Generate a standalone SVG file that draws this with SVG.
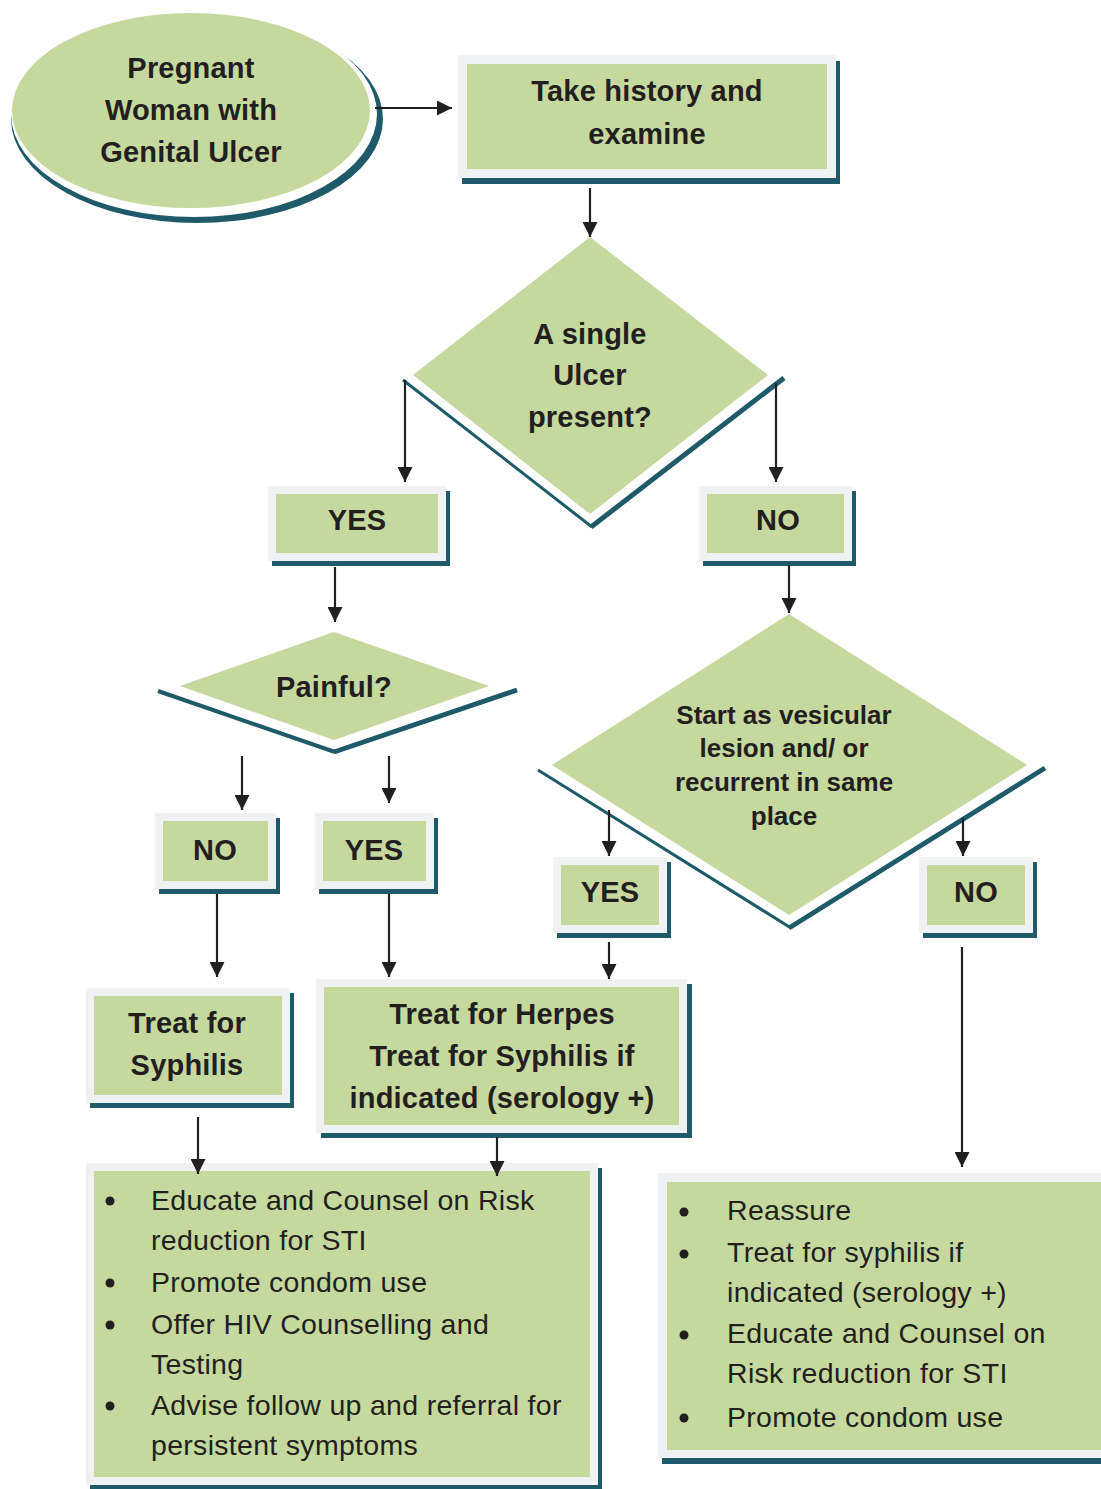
<svg xmlns="http://www.w3.org/2000/svg" width="1101" height="1489" viewBox="0 0 1101 1489">
  <style>
    .shadow { fill: #1e5a69; }
    .frame { fill: #eff1f3; }
    .fill { fill: #c5d89d; }
    .edge { stroke: #1e5a69; fill: none; stroke-linecap: butt; }
    .label { font-family: "Liberation Sans", Arial, sans-serif; font-weight: bold; fill: #231f20; text-anchor: middle; }
    .big { font-size: 29px; letter-spacing: 0.2px; }
    .mid { font-size: 26px; }
    .item { font-family: "Liberation Sans", Arial, sans-serif; font-size: 28.5px; letter-spacing: 0.3px; fill: #231f20; }
    .bullet { fill: #231f20; }
    .conn line { stroke: #231f20; stroke-width: 2.2; marker-end: url(#head); }
  </style>
  <defs>
    <marker id="head" viewBox="0 0 10 10" refX="10" refY="5" markerWidth="15" markerHeight="15" markerUnits="userSpaceOnUse" orient="auto" preserveAspectRatio="none">
      <path d="M0,0 L10,5 L0,10 z" fill="#231f20"/>
    </marker>
  </defs>

  <!-- start: pregnant woman -->
  <g id="start">
    <ellipse cx="197" cy="119" rx="186" ry="104" class="shadow"/>
    <ellipse cx="194" cy="114" rx="183" ry="103" fill="#ffffff"/>
    <ellipse cx="191" cy="110.5" rx="179" ry="97.5" class="fill"/>
    <text class="label big" x="191" y="78">Pregnant</text>
    <text class="label big" x="191" y="120">Woman with</text>
    <text class="label big" x="191" y="162">Genital Ulcer</text>
  </g>

  <!-- take history -->
  <g id="history">
    <rect x="462" y="61" width="378" height="123" class="shadow"/>
    <rect x="458" y="55" width="378" height="123" class="frame"/>
    <rect x="467" y="64" width="360" height="105" class="fill"/>
    <text class="label big" x="647" y="101">Take history and</text>
    <text class="label big" x="647" y="144">examine</text>
  </g>

  <!-- decision: single ulcer -->
  <g id="single-ulcer">
    <line x1="403" y1="380" x2="592" y2="527" class="edge" stroke-width="3"/>
    <line x1="591" y1="527" x2="784" y2="378" class="edge" stroke-width="5"/>
    <polygon points="590,237 768,375 590,514 413,375" class="fill"/>
    <text class="label big" x="590" y="344">A single</text>
    <text class="label big" x="590" y="385">Ulcer</text>
    <text class="label big" x="590" y="427">present?</text>
  </g>

  <g id="yes-single">
    <rect x="272" y="491" width="178" height="75" class="shadow"/>
    <rect x="268" y="486" width="178" height="75" class="frame"/>
    <rect x="276" y="494" width="162" height="59" class="fill"/>
    <text class="label big" x="357" y="530">YES</text>
  </g>

  <g id="no-single">
    <rect x="703" y="491" width="153" height="75" class="shadow"/>
    <rect x="699" y="486" width="153" height="75" class="frame"/>
    <rect x="707" y="494" width="137" height="59" class="fill"/>
    <text class="label big" x="778" y="530">NO</text>
  </g>

  <!-- decision: painful -->
  <g id="painful">
    <line x1="158" y1="691" x2="335" y2="752" class="edge" stroke-width="4"/>
    <line x1="334" y1="752" x2="517" y2="690" class="edge" stroke-width="5"/>
    <polygon points="334,632 489,686 334,740 180,686" class="fill"/>
    <text class="label big" x="334" y="697">Painful?</text>
  </g>

  <g id="no-painful">
    <rect x="159" y="818" width="121" height="76" class="shadow"/>
    <rect x="155" y="813" width="121" height="76" class="frame"/>
    <rect x="163" y="821" width="105" height="60" class="fill"/>
    <text class="label big" x="215" y="860">NO</text>
  </g>

  <g id="yes-painful">
    <rect x="319" y="818" width="119" height="76" class="shadow"/>
    <rect x="315" y="813" width="119" height="76" class="frame"/>
    <rect x="323" y="821" width="103" height="60" class="fill"/>
    <text class="label big" x="374" y="860">YES</text>
  </g>

  <!-- decision: vesicular / recurrent -->
  <g id="vesicular">
    <line x1="538" y1="770" x2="791" y2="928" class="edge" stroke-width="3"/>
    <line x1="789" y1="928" x2="1045" y2="768" class="edge" stroke-width="5"/>
    <polygon points="789,614 1027,765 789,915 552,765" class="fill"/>
    <text class="label mid" x="784" y="724">Start as vesicular</text>
    <text class="label mid" x="784" y="757">lesion and/ or</text>
    <text class="label mid" x="784" y="791">recurrent in same</text>
    <text class="label mid" x="784" y="825">place</text>
  </g>

  <g id="yes-vesicular">
    <rect x="557" y="862" width="114" height="76" class="shadow"/>
    <rect x="553" y="857" width="114" height="76" class="frame"/>
    <rect x="561" y="865" width="98" height="60" class="fill"/>
    <text class="label big" x="610" y="902">YES</text>
  </g>

  <g id="no-vesicular">
    <rect x="923" y="862" width="114" height="76" class="shadow"/>
    <rect x="919" y="857" width="114" height="76" class="frame"/>
    <rect x="927" y="865" width="98" height="60" class="fill"/>
    <text class="label big" x="976" y="902">NO</text>
  </g>

  <!-- treatments -->
  <g id="treat-syphilis">
    <rect x="90" y="993" width="204" height="115" class="shadow"/>
    <rect x="86" y="988" width="204" height="115" class="frame"/>
    <rect x="94" y="996" width="188" height="99" class="fill"/>
    <text class="label big" x="187" y="1033">Treat for</text>
    <text class="label big" x="187" y="1075">Syphilis</text>
  </g>

  <g id="treat-herpes">
    <rect x="321" y="984" width="371" height="154" class="shadow"/>
    <rect x="316" y="979" width="371" height="154" class="frame"/>
    <rect x="324" y="987" width="355" height="138" class="fill"/>
    <text class="label big" x="502" y="1024">Treat for Herpes</text>
    <text class="label big" x="502" y="1066">Treat for Syphilis if</text>
    <text class="label big" x="502" y="1108">indicated (serology +)</text>
  </g>

  <!-- counselling actions -->
  <g id="advice-left">
    <rect x="90" y="1168" width="512" height="321" class="shadow"/>
    <rect x="86" y="1163" width="512" height="322" class="frame"/>
    <rect x="94" y="1171" width="496" height="306" class="fill"/>
    <circle cx="110" cy="1201" r="4.5" class="bullet"/>
    <circle cx="110" cy="1283" r="4.5" class="bullet"/>
    <circle cx="110" cy="1325" r="4.5" class="bullet"/>
    <circle cx="110" cy="1406" r="4.5" class="bullet"/>
    <text class="item" x="151" y="1210">Educate and Counsel on Risk</text>
    <text class="item" x="151" y="1250">reduction for STI</text>
    <text class="item" x="151" y="1292">Promote condom use</text>
    <text class="item" x="151" y="1334">Offer HIV Counselling and</text>
    <text class="item" x="151" y="1374">Testing</text>
    <text class="item" x="151" y="1415">Advise follow up and referral for</text>
    <text class="item" x="151" y="1455">persistent symptoms</text>
  </g>

  <g id="advice-right">
    <rect x="662" y="1178" width="450" height="286" class="shadow"/>
    <rect x="658" y="1173" width="450" height="285" class="frame"/>
    <rect x="667" y="1182" width="440" height="268" class="fill"/>
    <circle cx="684" cy="1212" r="4.5" class="bullet"/>
    <circle cx="684" cy="1254" r="4.5" class="bullet"/>
    <circle cx="684" cy="1335" r="4.5" class="bullet"/>
    <circle cx="684" cy="1418" r="4.5" class="bullet"/>
    <text class="item" x="727" y="1220">Reassure</text>
    <text class="item" x="727" y="1262">Treat for syphilis if</text>
    <text class="item" x="727" y="1302">indicated (serology +)</text>
    <text class="item" x="727" y="1343">Educate and Counsel on</text>
    <text class="item" x="727" y="1383">Risk reduction for STI</text>
    <text class="item" x="727" y="1427">Promote condom use</text>
  </g>

  <!-- connectors -->
  <g id="connectors" class="conn">
    <line x1="375" y1="108" x2="452" y2="108"/>
    <line x1="590" y1="188" x2="590" y2="237"/>
    <line x1="405" y1="380" x2="405" y2="482"/>
    <line x1="776" y1="383" x2="776" y2="482"/>
    <line x1="335" y1="567" x2="335" y2="622"/>
    <line x1="789" y1="565" x2="789" y2="613"/>
    <line x1="242" y1="756" x2="242" y2="810"/>
    <line x1="389" y1="756" x2="389" y2="803"/>
    <line x1="609" y1="810" x2="609" y2="856"/>
    <line x1="963" y1="818" x2="963" y2="856"/>
    <line x1="217" y1="894" x2="217" y2="977"/>
    <line x1="389" y1="894" x2="389" y2="977"/>
    <line x1="609" y1="942" x2="609" y2="979"/>
    <line x1="962" y1="947" x2="962" y2="1167"/>
    <line x1="198" y1="1117" x2="198" y2="1174"/>
    <line x1="497" y1="1137" x2="497" y2="1176"/>
  </g>
</svg>
